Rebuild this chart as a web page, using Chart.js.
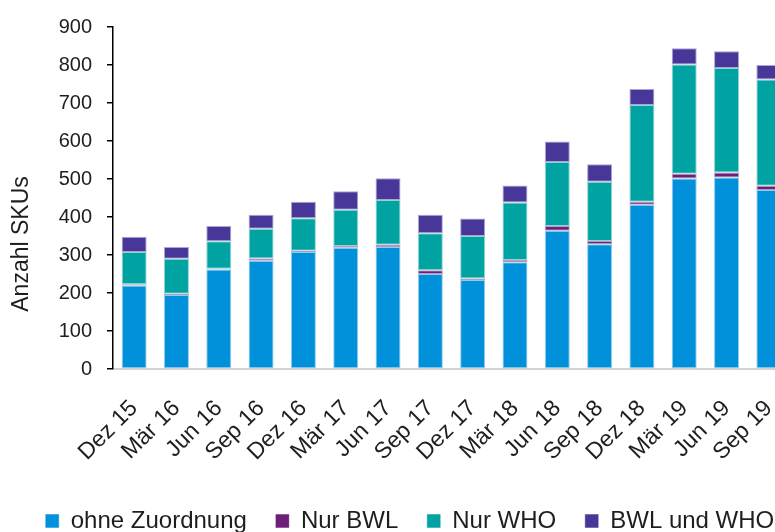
<!DOCTYPE html>
<html lang="de">
<head>
<meta charset="utf-8">
<title>Anzahl SKUs</title>
<script src="https://cdn.jsdelivr.net/npm/chart.js@4.4.1/dist/chart.umd.min.js"></script>
<style>
    html, body {
        margin: 0;
        padding: 0;
        background: #fff;
        overflow: hidden;
    }
    #wrap {
        width: 820px;
        height: 543px;
    }
</style>
</head>
<body>
<div id="wrap">
    <canvas id="skuChart" width="820" height="543"></canvas>
</div>
<script>
// Data
const quarters = ['Dez 15', 'Mär 16', 'Jun 16', 'Sep 16', 'Dez 16', 'Mär 17', 'Jun 17', 'Sep 17',
                  'Dez 17', 'Mär 18', 'Jun 18', 'Sep 18', 'Dez 18', 'Mär 19', 'Jun 19', 'Sep 19'];
const ohneZuordnung = [220, 195, 262, 285, 308, 319, 321, 250, 234, 281, 364, 328, 432, 501, 504, 471];
const nurBWL        = [3, 3, 2, 6, 3, 5, 6, 10, 4, 6, 12, 9, 8, 13, 13, 11];
const nurWHO        = [85, 92, 72, 78, 86, 95, 118, 97, 112, 151, 169, 156, 255, 287, 275, 280];
const bwlUndWHO     = [40, 31, 40, 37, 43, 49, 57, 49, 46, 45, 54, 46, 42, 43, 44, 38];
const yTicks = [0, 100, 200, 300, 400, 500, 600, 700, 800, 900];
const yTitle = 'Anzahl SKUs';

const FONT = "'Liberation Sans', Arial, sans-serif";
const TEXT = '#1e1e1e';

function series(label, data, fill, edge) {
    return {
        label: label,
        data: data,
        backgroundColor: fill,
        borderColor: edge,
        borderWidth: 1,
        borderSkipped: false,
        categoryPercentage: 1,
        barPercentage: 0.59
    };
}

// y axis title sits lower than the axis centre in the reference
const axisTitle = {
    id: 'axisTitle',
    afterDraw(chart) {
        const { ctx, chartArea } = chart;
        ctx.save();
        ctx.translate(chartArea.left - 91, chartArea.bottom - 125);
        ctx.rotate(-Math.PI / 2);
        ctx.font = '23px ' + FONT;
        ctx.fillStyle = TEXT;
        ctx.textAlign = 'center';
        ctx.textBaseline = 'middle';
        ctx.fillText(yTitle, 0, 0);
        ctx.restore();
    }
};

const ctx = document.getElementById('skuChart').getContext('2d');

new Chart(ctx, {
    type: 'bar',
    data: {
        labels: quarters,
        datasets: [
            series('ohne Zuordnung', ohneZuordnung, '#0091DA', 'rgba(0,145,218,0.45)'),
            series('Nur BWL', nurBWL, '#6D2077', 'rgba(109,32,119,0.45)'),
            series('Nur WHO', nurWHO, '#00A3A1', 'rgba(0,163,161,0.45)'),
            series('BWL und WHO', bwlUndWHO, '#483698', 'rgba(72,54,152,0.45)')
        ]
    },
    options: {
        responsive: false,
        animation: false,
        layout: {
            padding: { left: 0, right: 0, top: 11, bottom: 0 }
        },
        plugins: {
            legend: {
                position: 'bottom',
                labels: {
                    boxWidth: 13,
                    boxHeight: 13,
                    padding: 29,
                    color: TEXT,
                    font: { family: FONT, size: 24 }
                }
            },
            tooltip: { enabled: false }
        },
        scales: {
            x: {
                stacked: true,
                grid: { display: false },
                border: { display: true, color: '#d4d4d4', width: 2 },
                ticks: {
                    color: TEXT,
                    autoSkip: false,
                    maxRotation: 45,
                    minRotation: 45,
                    padding: 18,
                    font: { family: FONT, size: 23 }
                },
                afterFit(scale) {
                    // room between the rotated labels and the legend,
                    // and the last bar runs past the right edge of the picture
                    scale.height = 111;
                    scale.paddingLeft = 0;
                    scale.paddingRight = 30;
                }
            },
            y: {
                stacked: true,
                min: 0,
                max: 900,
                afterBuildTicks(axis) {
                    axis.ticks = yTicks.map(v => ({ value: v }));
                },
                afterFit(scale) {
                    // leaves space on the left for the axis title
                    scale.width = 113;
                },
                grid: {
                    drawOnChartArea: false,
                    drawTicks: true,
                    tickLength: 6,
                    color: '#000',
                    lineWidth: 1.5
                },
                border: { display: true, color: '#000', width: 1.5 },
                ticks: {
                    color: TEXT,
                    padding: 15,
                    font: { family: FONT, size: 20 }
                }
            }
        }
    },
    plugins: [axisTitle]
});
</script>
</body>
</html>
